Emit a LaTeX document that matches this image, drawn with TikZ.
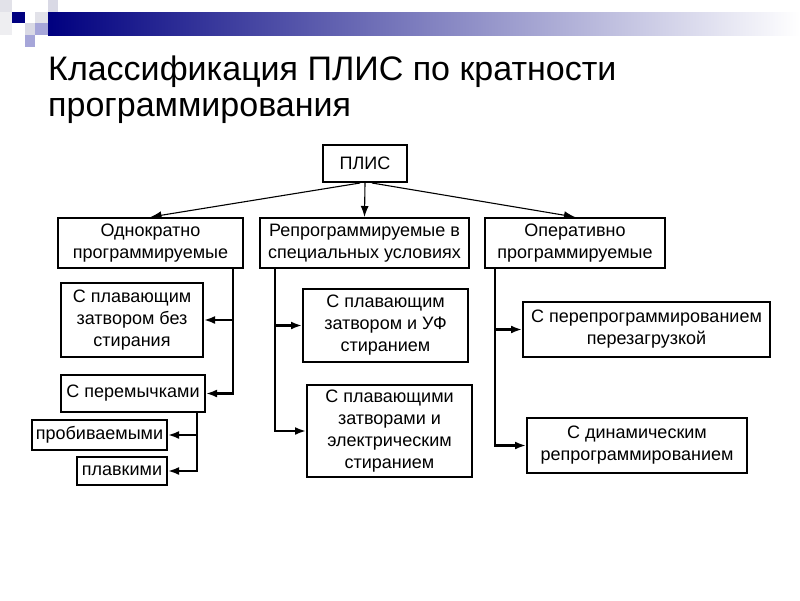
\documentclass[tikz,border=0pt]{standalone}
\usepackage{fontspec}
\setmainfont{Liberation Sans}
\usetikzlibrary{arrows.meta}
\tikzset{
	box/.style={draw, line width=2pt, align=center, inner sep=2pt,
		font=\fontsize{18}{22}\selectfont},
	branch/.style={line width=2.4pt, -{Latex[length=11pt,width=8pt]}},
	toparrow/.style={line width=1.1pt, -{Latex[length=11pt,width=8pt]}}
}
\begin{document}
\begin{tikzpicture}[x=1pt, y=-1pt]
		\useasboundingbox (0,0) rectangle (800,600);
		% pixel decoration and bar
		\shade[left color=blue!50!black, right color=white] (48,12) rectangle (800,35);
		\fill[blue!12!gray!20] (0,0) rectangle (12,12);
		\fill[blue!8!gray!12] (0,12) rectangle (12,35);
		\fill[blue!50!black] (12,12) rectangle (25,23);
		\fill[blue!20!gray!25] (48,0) rectangle (58,12);
		\fill[blue!15!gray!20] (35,12) rectangle (48,23);
		\fill[blue!20!gray!25] (25,23) rectangle (35,35);
		\fill[blue!40!gray!50] (35,23) rectangle (48,35);
		\fill[blue!40!gray!50] (25,35) rectangle (35,47);

		\node (title) [anchor=base west, align=left, inner sep=0pt,
			font=\fontsize{34}{36}\selectfont] at (48,116)
			{Классификация ПЛИС по кратности\\программирования};

		\node (plis)   [box, minimum width=84pt,  minimum height=37pt] at (365,163.5) {ПЛИС};

		\node (once)   [box, minimum width=185pt, minimum height=50pt] at (150.5,243) {Однократно\\программируемые};
		\node (repro)  [box, minimum width=209pt, minimum height=50pt] at (364.5,243) {Репрограммируемые в\\специальных условиях};
		\node (oper)   [box, minimum width=180pt, minimum height=50pt] at (575,243) {Оперативно\\программируемые};

		\node (fg)     [box, minimum width=142pt, minimum height=74pt] at (132,320) {С плавающим\\затвором без\\стирания};
		\node (jump)   [box, minimum width=144pt, minimum height=37pt] at (133,393.5) {С перемычками};
		\node (pierce) [box, minimum width=135pt, minimum height=30pt] at (99.5,435) {пробиваемыми};
		\node (fuse)   [box, minimum width=90pt,  minimum height=28pt] at (122,471) {плавкими};

		\node (uv)     [box, minimum width=165pt, minimum height=73pt] at (385.5,325.5) {С плавающим\\затвором и УФ\\стиранием};
		\node (el)     [box, minimum width=165pt, minimum height=92pt] at (389.5,431) {С плавающими\\затворами и\\электрическим\\стиранием};

		\node (reload) [box, minimum width=247pt, minimum height=55pt] at (646.5,329.5) {С перепрограммированием\\перезагрузкой};
		\node (dyn)    [box, minimum width=220pt, minimum height=55pt] at (637,445.5) {С динамическим\\репрограммированием};

		% from the top box
		\draw [toparrow] ([xshift=-5pt]plis.south) -- (once.north);
		\draw [toparrow] (plis.south) -- (repro.north);
		\draw [toparrow] ([xshift=7pt]plis.south) -- (oper.north);

		% branches
		\coordinate (t1) at (233,268);
		\coordinate (t2) at (197,412);
		\coordinate (t3) at (275,268);
		\coordinate (t4) at (495,268);

		\draw [branch] (t1) |- (fg.east);
		\draw [branch] (t1) |- (jump.east);
		\draw [branch] (t2) |- (pierce.east);
		\draw [branch] (t2) |- (fuse.east);
		\draw [branch] (t3) |- (uv.west);
		\draw [branch] (t3) |- (el.west);
		\draw [branch] (t4) |- (reload.west);
		\draw [branch] (t4) |- (dyn.west);
	\end{tikzpicture}
\end{document}
